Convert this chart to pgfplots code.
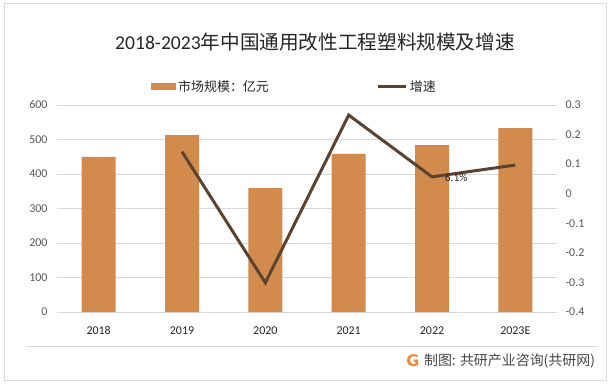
\documentclass[border=0pt]{standalone}
\usepackage{pgfplots}
\pgfplotsset{compat=1.18}
\usepackage{fontspec}
\setmainfont{Carlito}
\newfontfamily\cjk{Noto Sans CJK SC}
\newfontfamily\logofont{DejaVu Sans}
\definecolor{barc}{HTML}{D38B4D}
\definecolor{linec}{HTML}{5C4330}
\definecolor{gridc}{HTML}{D9D9D9}
\definecolor{tickc}{HTML}{595959}
\definecolor{txtc}{HTML}{262626}
\definecolor{logoc}{HTML}{EE8A3C}
\begin{document}
\begin{tikzpicture}[x=1bp,y=1bp]
\path[use as bounding box] (0,0) rectangle (615,386);
\fill[white] (0,0) rectangle (615,386);
\draw[gridc, line width=1bp] (4.5,5.5) rectangle (606,382.5);
\node[font=\fontsize{19.7}{22}\selectfont, text=txtc] at (315,344.3) {2018-2023{\cjk 年中国通用改性工程塑料规模及增速}};

\begin{axis}[at={(57bp,74bp)}, anchor=south west, scale only axis,
  width=500bp, height=207bp,
  xmin=-0.5, xmax=5.5, ymin=0, ymax=600,
  xtick={0,1,2,3,4,5}, xticklabels={2018,2019,2020,2021,2022,2023E},
  ytick={0,100,200,300,400,500,600}, yticklabels={0,100,200,300,400,500,600},
  ybar, bar width=34bp,
  ymajorgrids, grid style={gridc, line width=0.9bp},
  axis line style={draw=none}, tick style={draw=none},
  tick label style={font=\fontsize{12}{12}\selectfont},
  yticklabel style={text=tickc, xshift=-6bp},
  xticklabel style={text=txtc, yshift=-7bp},
  legend columns=2,
  legend style={draw=none, fill=none, at={(0.188,1.088)}, anchor=west,
    inner sep=0pt, font=\cjk\fontsize{13}{13}\selectfont, text=txtc,
    nodes={inner sep=2bp},
    /tikz/every even column/.append style={column sep=106bp}},
]
\addplot[fill=barc, draw=none,
  legend image code/.code={\fill[barc] (0bp,-3.3bp) rectangle (25bp,3.3bp);}]
  coordinates {(0,450) (1,513) (2,359) (3,458) (4,484) (5,533)};
\addlegendentry{市场规模：亿元}
\addlegendimage{legend image code/.code={\draw[linec, line width=3bp] (0bp,0bp) -- (28bp,0bp);}}
\addlegendentry{增速}
\end{axis}

\begin{axis}[at={(57bp,74bp)}, anchor=south west, scale only axis,
  width=500bp, height=207bp,
  xmin=-0.5, xmax=5.5, ymin=-0.4, ymax=0.3,
  axis x line=none, axis y line*=right,
  axis line style={draw=none}, tick style={draw=none},
  ytick={-0.4,-0.3,-0.2,-0.1,0,0.1,0.2,0.3},
  yticklabels={-0.4,-0.3,-0.2,-0.1,0,0.1,0.2,0.3},
  tick label style={font=\fontsize{12}{12}\selectfont},
  yticklabel style={text=tickc, xshift=5bp},
]
\addplot[linec, line width=3bp, mark=none,
  nodes near coords, point meta=explicit symbolic,
  nodes near coords style={anchor=west, xshift=8bp, yshift=-1bp,
    font=\fontsize{11.5}{12}\selectfont, text=txtc}]
  coordinates {(1,0.142) [] (2,-0.301) [] (3,0.266) [] (4,0.057) [6.1\%] (5,0.097) []};
\end{axis}

\draw[gridc, line width=0.9bp] (26,40) -- (598,40);
\node[anchor=east, font=\cjk\fontsize{14}{14}\selectfont, text=txtc!85] at (598.5,25) {制图: 共研产业咨询(共研网)};
\node[font=\logofont\bfseries\fontsize{16}{16}\selectfont, text=logoc] at (413,25) {G};
\end{tikzpicture}
\end{document}
